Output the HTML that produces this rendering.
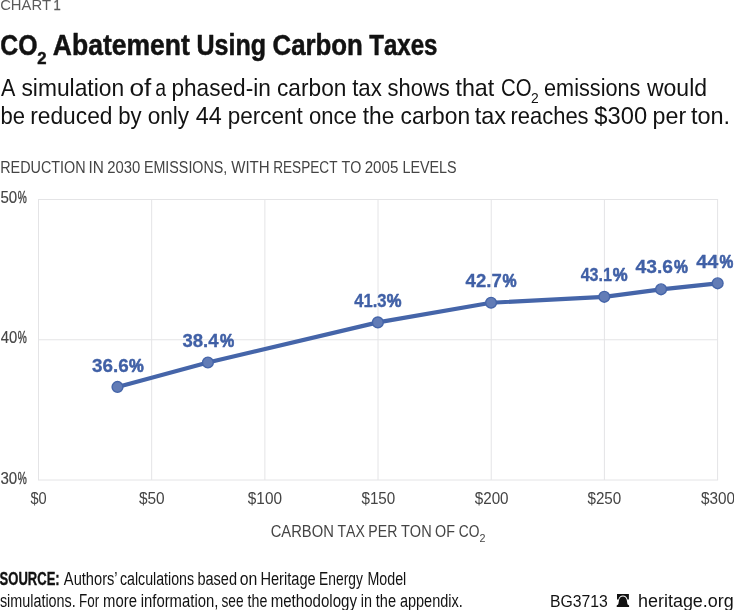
<!DOCTYPE html>
<html lang="en">
<head>
<meta charset="utf-8">
<title>CO2 Abatement Using Carbon Taxes</title>
<style>
html,body{margin:0;padding:0;background:#fff;}
body{width:734px;height:610px;overflow:hidden;position:relative;}
svg{position:absolute;left:0;top:0;display:block;}
text{font-family:"Liberation Sans",sans-serif;font-kerning:none;}
</style>
</head>
<body>
<svg width="734" height="610" viewBox="0 0 734 610">
<rect x="0" y="0" width="734" height="610" fill="#ffffff"/>
<g id="header">
<text y="10.00" font-size="14" fill="#5a5a5a"><tspan x="0.15" textLength="50.99" lengthAdjust="spacingAndGlyphs">CHART</tspan> <tspan x="53.61" stroke="#5a5a5a" stroke-width="0.3" textLength="7.22" lengthAdjust="spacingAndGlyphs">1</tspan></text>
<text y="54.60" font-size="29" font-weight="bold" fill="#121212" stroke="#121212" stroke-width="0.5" stroke-linejoin="round"><tspan x="0.28" textLength="37.16" lengthAdjust="spacingAndGlyphs">CO</tspan><tspan x="37.32" y="64.20" font-size="16" textLength="9.24" lengthAdjust="spacingAndGlyphs">2</tspan> <tspan x="52.84" y="54.60" textLength="136.98" lengthAdjust="spacingAndGlyphs">Abatement</tspan> <tspan x="196.50" textLength="69.58" lengthAdjust="spacingAndGlyphs">Using</tspan> <tspan x="272.54" textLength="90.36" lengthAdjust="spacingAndGlyphs">Carbon</tspan> <tspan x="369.23" textLength="68.26" lengthAdjust="spacingAndGlyphs">Taxes</tspan></text>
<text y="96.00" font-size="24.4" fill="#121212"><tspan x="0.96" textLength="14.38" lengthAdjust="spacingAndGlyphs">A</tspan> <tspan x="21.47" textLength="102.61" lengthAdjust="spacingAndGlyphs">simulation</tspan> <tspan x="129.40" textLength="21.86" lengthAdjust="spacingAndGlyphs">of</tspan> <tspan x="155.17" textLength="10.83" lengthAdjust="spacingAndGlyphs">a</tspan> <tspan x="171.44" textLength="99.43" lengthAdjust="spacingAndGlyphs">phased-in</tspan> <tspan x="277.04" textLength="69.34" lengthAdjust="spacingAndGlyphs">carbon</tspan> <tspan x="352.16" textLength="29.68" lengthAdjust="spacingAndGlyphs">tax</tspan> <tspan x="387.49" textLength="62.31" lengthAdjust="spacingAndGlyphs">shows</tspan> <tspan x="455.45" textLength="38.82" lengthAdjust="spacingAndGlyphs">that</tspan> <tspan x="501.07" textLength="30.51" lengthAdjust="spacingAndGlyphs">CO</tspan><tspan x="531.05" y="103.45" font-size="15.4" textLength="7.69" lengthAdjust="spacingAndGlyphs">2</tspan> <tspan x="544.08" y="96.00" textLength="96.30" lengthAdjust="spacingAndGlyphs">emissions</tspan> <tspan x="646.93" textLength="60.15" lengthAdjust="spacingAndGlyphs">would</tspan></text>
<text y="124.00" font-size="24.4" fill="#121212"><tspan x="0.58" textLength="24.50" lengthAdjust="spacingAndGlyphs">be</tspan> <tspan x="30.19" textLength="82.28" lengthAdjust="spacingAndGlyphs">reduced</tspan> <tspan x="118.17" textLength="23.37" lengthAdjust="spacingAndGlyphs">by</tspan> <tspan x="147.65" textLength="41.49" lengthAdjust="spacingAndGlyphs">only</tspan> <tspan x="195.86" textLength="26.02" lengthAdjust="spacingAndGlyphs">44</tspan> <tspan x="227.85" textLength="75.01" lengthAdjust="spacingAndGlyphs">percent</tspan> <tspan x="309.08" textLength="47.70" lengthAdjust="spacingAndGlyphs">once</tspan> <tspan x="362.76" textLength="31.55" lengthAdjust="spacingAndGlyphs">the</tspan> <tspan x="400.53" textLength="69.54" lengthAdjust="spacingAndGlyphs">carbon</tspan> <tspan x="474.85" textLength="31.21" lengthAdjust="spacingAndGlyphs">tax</tspan> <tspan x="510.54" textLength="78.05" lengthAdjust="spacingAndGlyphs">reaches</tspan> <tspan x="594.35" textLength="52.78" lengthAdjust="spacingAndGlyphs">$300</tspan> <tspan x="652.60" textLength="33.58" lengthAdjust="spacingAndGlyphs">per</tspan> <tspan x="690.94" textLength="39.20" lengthAdjust="spacingAndGlyphs">ton.</tspan></text>
</g>
<g id="yaxis-title">
<text y="172.60" font-size="15.6" fill="#444444"><tspan x="0.22" textLength="85.35" lengthAdjust="spacingAndGlyphs">REDUCTION</tspan> <tspan x="88.48" textLength="15.37" lengthAdjust="spacingAndGlyphs">IN</tspan> <tspan x="107.15" textLength="33.03" lengthAdjust="spacingAndGlyphs">2030</tspan> <tspan x="143.93" textLength="83.36" lengthAdjust="spacingAndGlyphs">EMISSIONS,</tspan> <tspan x="231.23" textLength="38.49" lengthAdjust="spacingAndGlyphs">WITH</tspan> <tspan x="273.18" textLength="64.33" lengthAdjust="spacingAndGlyphs">RESPECT</tspan> <tspan x="341.58" textLength="19.80" lengthAdjust="spacingAndGlyphs">TO</tspan> <tspan x="364.64" textLength="33.70" lengthAdjust="spacingAndGlyphs">2005</tspan> <tspan x="402.42" textLength="54.24" lengthAdjust="spacingAndGlyphs">LEVELS</tspan></text>
</g>
<g id="grid" stroke="#e4e4e6" stroke-width="1" fill="none">
<line x1="38.00" y1="199.5" x2="718.08" y2="199.5"/>
<line x1="38.00" y1="339.75" x2="718.08" y2="339.75"/>
<line x1="38.00" y1="480.0" x2="718.08" y2="480.0"/>
<line x1="38.50" y1="199.5" x2="38.50" y2="480.0"/>
<line x1="151.68" y1="199.5" x2="151.68" y2="480.0"/>
<line x1="264.86" y1="199.5" x2="264.86" y2="480.0"/>
<line x1="378.04" y1="199.5" x2="378.04" y2="480.0"/>
<line x1="491.22" y1="199.5" x2="491.22" y2="480.0"/>
<line x1="604.40" y1="199.5" x2="604.40" y2="480.0"/>
<line x1="717.58" y1="199.5" x2="717.58" y2="480.0"/>
</g>
<g id="yticks">
<text y="202.80" font-size="16.5" fill="#444444" stroke="#444444" stroke-width="0.15"><tspan x="0.40" textLength="16.79" lengthAdjust="spacingAndGlyphs">50</tspan><tspan x="17.64" stroke-width="0.45" textLength="9.02" lengthAdjust="spacingAndGlyphs">%</tspan></text>
<text y="343.20" font-size="16.5" fill="#444444" stroke="#444444" stroke-width="0.15"><tspan x="0.66" textLength="16.52" lengthAdjust="spacingAndGlyphs">40</tspan><tspan x="17.64" stroke-width="0.45" textLength="9.02" lengthAdjust="spacingAndGlyphs">%</tspan></text>
<text y="484.30" font-size="16.5" fill="#444444" stroke="#444444" stroke-width="0.15"><tspan x="0.43" textLength="16.76" lengthAdjust="spacingAndGlyphs">30</tspan><tspan x="17.64" stroke-width="0.45" textLength="9.02" lengthAdjust="spacingAndGlyphs">%</tspan></text>
</g>
<g id="xticks">
<text y="504.00" font-size="16.5" fill="#444444"><tspan x="30.44" textLength="16.23" lengthAdjust="spacingAndGlyphs">$0</tspan></text>
<text y="504.00" font-size="16.5" fill="#444444"><tspan x="138.93" textLength="25.77" lengthAdjust="spacingAndGlyphs">$50</tspan></text>
<text y="504.00" font-size="16.5" fill="#444444"><tspan x="247.84" textLength="34.16" lengthAdjust="spacingAndGlyphs">$100</tspan></text>
<text y="504.00" font-size="16.5" fill="#444444"><tspan x="361.44" textLength="33.86" lengthAdjust="spacingAndGlyphs">$150</tspan></text>
<text y="504.00" font-size="16.5" fill="#444444"><tspan x="474.74" textLength="33.86" lengthAdjust="spacingAndGlyphs">$200</tspan></text>
<text y="504.00" font-size="16.5" fill="#444444"><tspan x="587.44" textLength="33.86" lengthAdjust="spacingAndGlyphs">$250</tspan></text>
<text y="504.00" font-size="16.5" fill="#444444"><tspan x="700.94" textLength="34.06" lengthAdjust="spacingAndGlyphs">$300</tspan></text>
</g>
<g id="xaxis-title">
<text y="536.60" font-size="15.6" fill="#444444"><tspan x="270.65" textLength="63.15" lengthAdjust="spacingAndGlyphs">CARBON</tspan> <tspan x="337.48" textLength="27.41" lengthAdjust="spacingAndGlyphs">TAX</tspan> <tspan x="368.34" textLength="29.01" lengthAdjust="spacingAndGlyphs">PER</tspan> <tspan x="400.97" textLength="30.71" lengthAdjust="spacingAndGlyphs">TON</tspan> <tspan x="435.12" textLength="19.85" lengthAdjust="spacingAndGlyphs">OF</tspan> <tspan x="458.80" textLength="20.66" lengthAdjust="spacingAndGlyphs">CO</tspan><tspan x="479.56" y="541.80" font-size="10.4" textLength="5.98" lengthAdjust="spacingAndGlyphs">2</tspan></text>
</g>
<g id="series">
<polyline fill="none" stroke="#4565a9" stroke-width="4.2" stroke-linejoin="round" stroke-linecap="round" points="117.50,386.95 207.90,362.50 377.85,322.40 491.05,302.75 604.30,296.80 661.05,289.30 717.65,283.30"/>
<g fill="#627cb6" stroke="#4565a9" stroke-width="1.4">
<circle cx="117.50" cy="386.95" r="5.4"/>
<circle cx="207.90" cy="362.50" r="5.4"/>
<circle cx="377.85" cy="322.40" r="5.4"/>
<circle cx="491.05" cy="302.75" r="5.4"/>
<circle cx="604.30" cy="296.80" r="5.4"/>
<circle cx="661.05" cy="289.30" r="5.4"/>
<circle cx="717.65" cy="283.30" r="5.4"/>
</g>
<g id="labels" stroke="#4060a6" stroke-width="0.3" stroke-linejoin="round">
<text y="371.85" font-size="18.8" font-weight="bold" fill="#4060a6"><tspan x="92.07" textLength="36.71" lengthAdjust="spacingAndGlyphs">36.6</tspan><tspan x="128.89" stroke-width="0.7" textLength="14.75" lengthAdjust="spacingAndGlyphs">%</tspan></text>
<text y="346.60" font-size="18.8" font-weight="bold" fill="#4060a6"><tspan x="182.47" textLength="36.13" lengthAdjust="spacingAndGlyphs">38.4</tspan><tspan x="220.10" stroke-width="0.7" textLength="14.22" lengthAdjust="spacingAndGlyphs">%</tspan></text>
<text y="306.60" font-size="18.8" font-weight="bold" fill="#4060a6"><tspan x="354.15" textLength="32.45" lengthAdjust="spacingAndGlyphs">41.3</tspan><tspan x="386.79" stroke-width="0.7" textLength="14.75" lengthAdjust="spacingAndGlyphs">%</tspan></text>
<text y="286.60" font-size="18.8" font-weight="bold" fill="#4060a6"><tspan x="465.62" textLength="36.10" lengthAdjust="spacingAndGlyphs">42.7</tspan><tspan x="502.50" stroke-width="0.7" textLength="14.11" lengthAdjust="spacingAndGlyphs">%</tspan></text>
<text y="280.95" font-size="18.8" font-weight="bold" fill="#4060a6"><tspan x="580.66" textLength="31.39" lengthAdjust="spacingAndGlyphs">43.1</tspan><tspan x="612.78" stroke-width="0.7" textLength="14.86" lengthAdjust="spacingAndGlyphs">%</tspan></text>
<text y="273.30" font-size="18.8" font-weight="bold" fill="#4060a6"><tspan x="635.51" textLength="37.49" lengthAdjust="spacingAndGlyphs">43.6</tspan><tspan x="674.01" stroke-width="0.7" textLength="13.90" lengthAdjust="spacingAndGlyphs">%</tspan></text>
<text y="267.65" font-size="18.8" font-weight="bold" fill="#4060a6"><tspan x="696.30" textLength="22.01" lengthAdjust="spacingAndGlyphs">44</tspan><tspan x="719.41" stroke-width="0.7" textLength="13.80" lengthAdjust="spacingAndGlyphs">%</tspan></text>
</g>
</g>
<g id="footer">
<text y="584.60" font-size="18" font-weight="bold" fill="#121212" stroke="#121212" stroke-width="0.35" stroke-linejoin="round"><tspan x="-0.38" textLength="60.03" lengthAdjust="spacingAndGlyphs">SOURCE:</tspan></text>
<text y="584.60" font-size="18" fill="#121212"><tspan x="63.87" textLength="53.74" lengthAdjust="spacingAndGlyphs">Authors’</tspan> <tspan x="119.90" textLength="74.22" lengthAdjust="spacingAndGlyphs">calculations</tspan> <tspan x="197.46" textLength="39.57" lengthAdjust="spacingAndGlyphs">based</tspan> <tspan x="239.84" textLength="17.59" lengthAdjust="spacingAndGlyphs">on</tspan> <tspan x="260.40" textLength="55.25" lengthAdjust="spacingAndGlyphs">Heritage</tspan> <tspan x="319.07" textLength="43.76" lengthAdjust="spacingAndGlyphs">Energy</tspan> <tspan x="367.43" textLength="38.82" lengthAdjust="spacingAndGlyphs">Model</tspan></text>
<text y="606.50" font-size="18" fill="#121212"><tspan x="-0.10" textLength="75.81" lengthAdjust="spacingAndGlyphs">simulations.</tspan> <tspan x="79.00" textLength="20.12" lengthAdjust="spacingAndGlyphs">For</tspan> <tspan x="103.11" textLength="33.85" lengthAdjust="spacingAndGlyphs">more</tspan> <tspan x="140.71" textLength="77.63" lengthAdjust="spacingAndGlyphs">information,</tspan> <tspan x="221.52" textLength="22.09" lengthAdjust="spacingAndGlyphs">see</tspan> <tspan x="247.58" textLength="19.75" lengthAdjust="spacingAndGlyphs">the</tspan> <tspan x="270.70" textLength="86.23" lengthAdjust="spacingAndGlyphs">methodology</tspan> <tspan x="360.74" textLength="11.20" lengthAdjust="spacingAndGlyphs">in</tspan> <tspan x="375.78" textLength="20.27" lengthAdjust="spacingAndGlyphs">the</tspan> <tspan x="399.88" textLength="62.94" lengthAdjust="spacingAndGlyphs">appendix.</tspan></text>
<text y="606.60" font-size="17.3" fill="#121212"><tspan x="550.01" textLength="57.89" lengthAdjust="spacingAndGlyphs">BG3713</tspan></text>
<g id="bell" fill="#111">
<path d="M617 593.9h11.900v5.600h-1.400c-.5-2.300-2.300-3.900-4.550-3.900s-4.050 1.600-4.550 3.900h-1.400z"/>
<path d="M622.950 596.4c2.100 0 3.500 1.500 3.800 3.600l.6 3.600c.2 1 .9 1.600 1.750 1.900v1.400h-12.400v-1.400c.9-.3 1.550-.9 1.750-1.900l.6-3.600c.3-2.100 1.800-3.600 3.900-3.600z"/>
</g>
<text y="606.50" font-size="17.5" fill="#121212"><tspan x="637.95" textLength="95.90" lengthAdjust="spacingAndGlyphs">heritage.org</tspan></text>
</g>
</svg>
</body>
</html>
